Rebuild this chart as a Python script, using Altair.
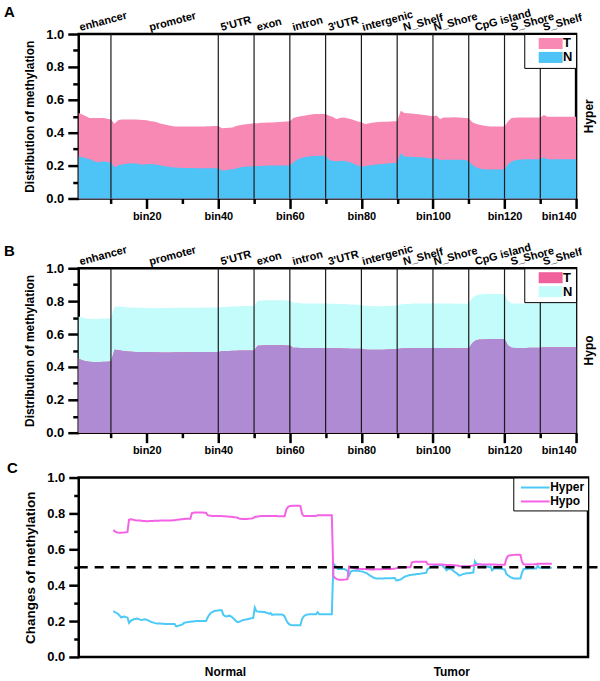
import altair as alt
import pandas as pd

FONT = "Liberation Sans"

# ---------------- data ----------------
bins = list(range(1, 141))

# panel A (Hyper): tumour (pink) and normal (blue) levels per bin
hyper_T = [
    0.520, 0.510, 0.500, 0.490, 0.490, 0.490, 0.490, 0.490, 0.485, 0.480,
    0.455, 0.475, 0.480, 0.480, 0.480, 0.480, 0.480, 0.478, 0.477, 0.475,
    0.470, 0.468, 0.462, 0.455, 0.450, 0.445, 0.440, 0.438, 0.437, 0.437,
    0.437, 0.437, 0.437, 0.438, 0.438, 0.438, 0.439, 0.439, 0.440, 0.440,
    0.427, 0.428, 0.430, 0.432, 0.440, 0.445, 0.450, 0.452, 0.455, 0.457,
    0.458, 0.460, 0.460, 0.462, 0.462, 0.463, 0.465, 0.466, 0.468, 0.469,
    0.490, 0.495, 0.500, 0.503, 0.507, 0.510, 0.513, 0.513, 0.514, 0.513,
    0.503, 0.495, 0.483, 0.490, 0.493, 0.488, 0.483, 0.475, 0.468, 0.463,
    0.453, 0.456, 0.460, 0.463, 0.465, 0.466, 0.467, 0.468, 0.469, 0.470,
    0.533, 0.520, 0.518, 0.516, 0.514, 0.512, 0.509, 0.506, 0.503, 0.500,
    0.505, 0.483, 0.493, 0.493, 0.493, 0.494, 0.493, 0.491, 0.489, 0.488,
    0.463, 0.455, 0.449, 0.444, 0.440, 0.437, 0.437, 0.437, 0.437, 0.437,
    0.470, 0.489, 0.491, 0.492, 0.493, 0.493, 0.493, 0.493, 0.493, 0.493,
    0.508, 0.497, 0.497, 0.497, 0.497, 0.497, 0.497, 0.497, 0.497, 0.497,
]
hyper_N = [
    0.255, 0.250, 0.245, 0.240, 0.230, 0.220, 0.224, 0.225, 0.222, 0.220,
    0.190, 0.200, 0.206, 0.210, 0.212, 0.214, 0.212, 0.208, 0.206, 0.208,
    0.210, 0.208, 0.205, 0.200, 0.196, 0.193, 0.190, 0.188, 0.187, 0.186,
    0.186, 0.185, 0.185, 0.184, 0.184, 0.184, 0.184, 0.184, 0.184, 0.184,
    0.170, 0.172, 0.176, 0.178, 0.182, 0.190, 0.192, 0.194, 0.195, 0.196,
    0.197, 0.198, 0.199, 0.200, 0.200, 0.200, 0.200, 0.200, 0.200, 0.200,
    0.220, 0.235, 0.245, 0.250, 0.255, 0.257, 0.258, 0.260, 0.260, 0.260,
    0.235, 0.228, 0.226, 0.228, 0.230, 0.225, 0.218, 0.210, 0.200, 0.194,
    0.196, 0.200, 0.204, 0.206, 0.208, 0.210, 0.212, 0.214, 0.216, 0.218,
    0.275, 0.255, 0.253, 0.252, 0.252, 0.251, 0.250, 0.248, 0.245, 0.240,
    0.245, 0.234, 0.236, 0.236, 0.236, 0.236, 0.236, 0.236, 0.234, 0.226,
    0.205, 0.190, 0.182, 0.178, 0.176, 0.176, 0.176, 0.176, 0.176, 0.176,
    0.210, 0.225, 0.232, 0.236, 0.237, 0.238, 0.238, 0.238, 0.238, 0.238,
    0.250, 0.238, 0.238, 0.238, 0.238, 0.238, 0.238, 0.238, 0.238, 0.238,
]
# panel B (Hypo)
hypo_N = [
    0.707, 0.700, 0.695, 0.693, 0.692, 0.692, 0.693, 0.694, 0.695, 0.697,
    0.765, 0.768, 0.766, 0.764, 0.762, 0.761, 0.760, 0.760, 0.759, 0.758,
    0.758, 0.757, 0.757, 0.758, 0.758, 0.758, 0.759, 0.759, 0.759, 0.759,
    0.760, 0.760, 0.760, 0.760, 0.760, 0.761, 0.761, 0.761, 0.762, 0.762,
    0.764, 0.765, 0.766, 0.767, 0.768, 0.769, 0.770, 0.770, 0.770, 0.770,
    0.802, 0.804, 0.805, 0.805, 0.805, 0.805, 0.805, 0.805, 0.804, 0.804,
    0.790, 0.788, 0.787, 0.786, 0.786, 0.786, 0.786, 0.786, 0.785, 0.785,
    0.784, 0.784, 0.783, 0.783, 0.782, 0.781, 0.780, 0.779, 0.778, 0.776,
    0.772, 0.770, 0.769, 0.769, 0.769, 0.769, 0.770, 0.771, 0.772, 0.774,
    0.780, 0.782, 0.783, 0.784, 0.785, 0.785, 0.786, 0.786, 0.786, 0.786,
    0.786, 0.786, 0.785, 0.785, 0.785, 0.784, 0.784, 0.784, 0.784, 0.784,
    0.820, 0.835, 0.840, 0.842, 0.843, 0.843, 0.843, 0.843, 0.843, 0.842,
    0.800, 0.786, 0.785, 0.785, 0.785, 0.785, 0.785, 0.785, 0.786, 0.786,
    0.790, 0.790, 0.790, 0.790, 0.790, 0.790, 0.790, 0.790, 0.790, 0.790,
]
hypo_T = [
    0.450, 0.440, 0.435, 0.432, 0.430, 0.430, 0.430, 0.431, 0.432, 0.435,
    0.505, 0.503, 0.498, 0.495, 0.493, 0.492, 0.491, 0.490, 0.490, 0.490,
    0.490, 0.489, 0.489, 0.488, 0.488, 0.488, 0.488, 0.489, 0.489, 0.489,
    0.489, 0.489, 0.490, 0.490, 0.490, 0.490, 0.490, 0.490, 0.491, 0.491,
    0.495, 0.496, 0.497, 0.498, 0.499, 0.500, 0.500, 0.500, 0.500, 0.500,
    0.528, 0.530, 0.531, 0.531, 0.531, 0.531, 0.531, 0.531, 0.530, 0.530,
    0.517, 0.516, 0.515, 0.515, 0.515, 0.515, 0.515, 0.515, 0.515, 0.515,
    0.514, 0.514, 0.513, 0.513, 0.512, 0.512, 0.511, 0.511, 0.510, 0.510,
    0.506, 0.505, 0.505, 0.505, 0.505, 0.505, 0.506, 0.507, 0.508, 0.509,
    0.512, 0.513, 0.514, 0.515, 0.515, 0.515, 0.515, 0.515, 0.515, 0.515,
    0.515, 0.515, 0.515, 0.515, 0.514, 0.514, 0.514, 0.514, 0.514, 0.514,
    0.545, 0.562, 0.566, 0.567, 0.568, 0.569, 0.570, 0.570, 0.570, 0.569,
    0.530, 0.516, 0.515, 0.515, 0.515, 0.515, 0.516, 0.516, 0.517, 0.517,
    0.519, 0.519, 0.519, 0.519, 0.520, 0.520, 0.520, 0.520, 0.520, 0.520,
]
assert all(len(s) == 140 for s in (hyper_T, hyper_N, hypo_T, hypo_N))

series_names = ["T", "N"]
region_names = ["enhancer", "promoter", "5'UTR", "exon", "intron", "3'UTR",
                "intergenic", "N_Shelf", "N_Shore", "CpG island", "S_Shore", "S_Shelf"]
region_label_pos = [1.5, 21, 41, 51, 61, 71, 80.5, 92, 100.5, 112, 122, 131]
region_bounds = [10, 40, 50, 60, 70, 80, 90, 100, 110, 120, 130]
major_bins = [20, 40, 60, 80, 100, 120, 140]
minor_bins = [10, 30, 50, 70, 90, 110, 130]
y_major = [0.0, 0.2, 0.4, 0.6, 0.8, 1.0]
y_minor = [0.1, 0.3, 0.5, 0.7, 0.9]
c_series = ["Hyper", "Hypo"]
c_groups = ["Normal", "Tumor"]
c_group_pos = [72, 216]
ref_level = 0.5

# ---------------- layout ----------------
W, H = 499, 165
WC, HC = 511, 180


def y_axes(title, title_size, major_len, minor_len, title_pad):
    major = alt.Axis(orient="left", values=y_major, format=".1f", tickSize=major_len,
                     tickWidth=2.5, tickColor="black", domain=False, grid=False,
                     labelFont=FONT, labelFontSize=13, labelFontWeight="bold",
                     labelColor="black", labelPadding=4, title=title, titleFont=FONT,
                     titleFontSize=title_size, titleFontWeight="bold",
                     titleColor="black", titlePadding=title_pad)
    minor = alt.Axis(orient="left", values=y_minor, labels=False, tickSize=minor_len,
                     tickWidth=2.5, tickColor="black", domain=False, grid=False, title=None)
    return major, minor


x_major_axis = alt.Axis(orient="bottom", values=major_bins, labelExpr="'bin' + datum.value",
                        tickSize=10, tickWidth=2.5, tickColor="black", domain=False,
                        grid=False, labelFont=FONT, labelFontSize=11, labelFontWeight="bold",
                        labelColor="black", labelPadding=2, title=None)
x_minor_axis = alt.Axis(orient="bottom", values=minor_bins, labels=False, tickSize=5,
                        tickWidth=2.5, tickColor="black", domain=False, grid=False, title=None)


def area_panel(letter, side, t_vals, n_vals, t_col, n_col, cover_col, back, front):
    df = pd.DataFrame({"bin": bins + bins, "value": t_vals + n_vals,
                       "series": ["T"] * 140 + ["N"] * 140})
    xs = alt.Scale(domain=[1, 140], nice=False, zero=False)
    ys = alt.Scale(domain=[0, 1], nice=False)
    leg = alt.Legend(title=None, orient="top-right", offset=0, padding=3,
                     strokeColor="black", fillColor="white",
                     symbolType="M-2,-0.92L2,-0.92L2,0.92L-2,0.92Z", symbolSize=144,
                     symbolOffset=17, labelOffset=6, labelFont=FONT, labelFontSize=13,
                     labelFontWeight="bold", labelColor="black", rowPadding=0,
                     symbolStrokeWidth=0)
    color = alt.Color("series:N", scale=alt.Scale(domain=series_names, range=[t_col, n_col]),
                      legend=leg)
    ymaj, ymin = y_axes("Distribution of methylation", 12, 11, 6, 9)
    base = alt.Chart(df)
    layers = [
        base.transform_filter(alt.datum.series == back).mark_area().encode(
            x=alt.X("bin:Q", scale=xs, axis=x_major_axis),
            y=alt.Y("value:Q", scale=ys, axis=ymaj, stack=None), color=color),
        base.transform_filter(alt.datum.series == front).mark_area().encode(
            x=alt.X("bin:Q", scale=xs, axis=x_minor_axis),
            y=alt.Y("value:Q", scale=ys, axis=ymin, stack=None), color=color),
    ]
    if cover_col:
        layers.append(base.transform_filter(alt.datum.series == "T").mark_area(color=cover_col).encode(
            x=alt.X("bin:Q", scale=xs, axis=None),
            y=alt.Y("value:Q", scale=ys, axis=None, stack=None)))
    layers.append(alt.Chart(pd.DataFrame({"b": region_bounds})).mark_rule(
        color="#1a1a1a", strokeWidth=1.2).encode(x=alt.X("b:Q", scale=xs, axis=None)))
    layers.append(alt.Chart(pd.DataFrame({"pos": region_label_pos, "name": region_names})).mark_text(
        align="left", baseline="alphabetic", angle=345, font=FONT, fontSize=11,
        fontWeight="bold", color="black").encode(
        x=alt.X("pos:Q", scale=xs, axis=None), y=alt.value(-3), text="name:N"))
    layers.append(alt.Chart(pd.DataFrame({"t": [letter]})).mark_text(
        align="left", baseline="alphabetic", font=FONT, fontSize=15, fontWeight="bold",
        color="black").encode(x=alt.value(-75), y=alt.value(-17 if letter == "A" else -12),
                              text="t:N"))
    layers.append(alt.Chart(pd.DataFrame({"t": [side]})).mark_text(
        align="center", baseline="middle", angle=270, font=FONT, fontSize=12,
        fontWeight="bold", color="black").encode(x=alt.value(W + 13), y=alt.value(H / 2), text="t:N"))
    return alt.layer(*layers).properties(width=W, height=H).resolve_axis(
        x="independent", y="independent")


chartA = area_panel("A", "Hyper", hyper_T, hyper_N, "#f888b4", "#4ec4f6", None, "T", "N")
chartB = area_panel("B", "Hypo", hypo_T, hypo_N, "#f0609a", "#c4fbfb", "#ae8bd2", "N", "T")

# panel C
dfC = pd.DataFrame({
    "idx": list(range(1, 281)) * 2,
    "value": hyper_N + hyper_T + hypo_N + hypo_T,
    "series": [c_series[0]] * 280 + [c_series[1]] * 280,
})
xsC = alt.Scale(domain=[-21, 303], nice=False, zero=False)
ysC = alt.Scale(domain=[0, 1], nice=False)
mid = (c_group_pos[0] + c_group_pos[1]) / 2
x_axis_C = alt.Axis(orient="bottom", values=c_group_pos,
                    labelExpr=f"datum.value < {mid} ? '{c_groups[0]}' : '{c_groups[1]}'",
                    ticks=False, tickSize=0, domain=False, grid=False, labelFont=FONT,
                    labelFontSize=12, labelFontWeight="bold", labelColor="black",
                    labelPadding=10, title=None)
ymajC, yminC = y_axes("Changes of methylation", 13.5, 10, 5, 9)
legC = alt.Legend(title=None, orient="top-right", offset=0, padding=3, strokeColor="black",
                  fillColor="white", symbolType="M-2.4,0L2.4,0", symbolSize=144,
                  symbolStrokeWidth=2, symbolOffset=12, labelOffset=8, labelFont=FONT,
                  labelFontSize=12, labelFontWeight="bold", labelColor="black", rowPadding=1)
lineC = alt.Chart(dfC).mark_line(strokeWidth=2).encode(
    x=alt.X("idx:Q", scale=xsC, axis=x_axis_C),
    y=alt.Y("value:Q", scale=ysC, axis=ymajC),
    color=alt.Color("series:N", scale=alt.Scale(domain=c_series, range=["#4ccaf5", "#f562e5"]),
                    legend=legC),
    detail="series:N",
)
refC = alt.Chart(pd.DataFrame({"x0": [-21], "x1": [309], "y": [ref_level]})).mark_rule(
    color="black", strokeWidth=2.5, strokeDash=[9, 7]).encode(
    x=alt.X("x0:Q", scale=xsC, axis=None), x2="x1:Q",
    y=alt.Y("y:Q", scale=ysC, axis=yminC))
letterC = alt.Chart(pd.DataFrame({"t": ["C"]})).mark_text(
    align="left", baseline="alphabetic", font=FONT, fontSize=15, fontWeight="bold",
    color="black").encode(x=alt.value(-72), y=alt.value(-5), text="t:N")
chartC = alt.layer(lineC, refC, letterC).properties(width=WC, height=HC).resolve_axis(
    x="independent", y="independent")

top = alt.vconcat(chartA, chartB, spacing=70, bounds="flush").resolve_scale(color="independent")
chart = alt.vconcat(top, chartC, spacing=1, bounds="full").resolve_scale(
    color="independent").properties(
    padding={"left": 2, "top": 2, "right": 0, "bottom": 0}, background="white"
).configure_view(stroke="black", strokeWidth=2.5)

chart.save("out.html", embed_options={"renderer": "svg", "actions": False})
